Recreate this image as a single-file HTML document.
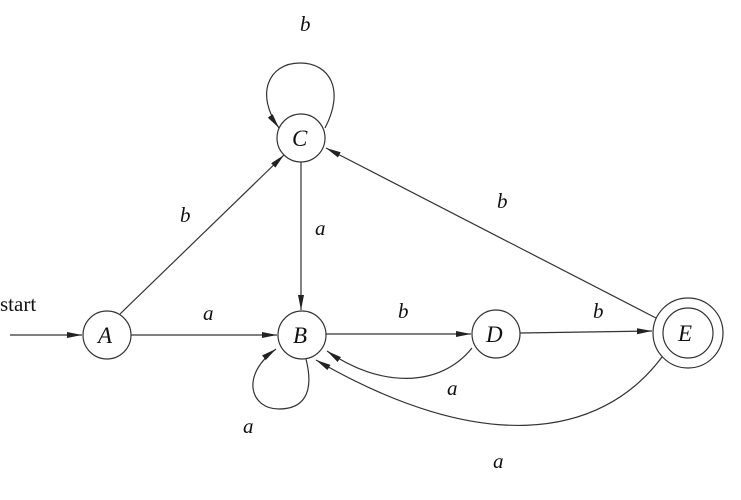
<!DOCTYPE html>
<html><head><style>
html,body{margin:0;padding:0;background:#fff;}
svg{display:block}
text{font-family:"Liberation Serif",serif;font-size:21px;fill:#111;}
.i{font-style:italic}
.n{font-size:23px}
</style></head><body>
<svg width="741" height="500" viewBox="0 0 741 500">
<defs>
<marker id="ar" markerWidth="16" markerHeight="8" refX="15" refY="4" orient="auto" markerUnits="userSpaceOnUse">
<path d="M0,1 L15,4 L0,7 Z" fill="#222"/>
</marker>
</defs>
<g fill="none" stroke="#333" stroke-width="1.2">
<circle cx="107" cy="335" r="24"/>
<circle cx="302" cy="335" r="24"/>
<circle cx="301" cy="138" r="24"/>
<circle cx="496" cy="334" r="24"/>
<circle cx="688" cy="333" r="35"/>
<circle cx="688" cy="333" r="25"/>
<line x1="10" y1="335" x2="82" y2="335" marker-end="url(#ar)"/>
<line x1="120" y1="314" x2="284" y2="155" marker-end="url(#ar)"/>
<line x1="131" y1="335" x2="277" y2="335" marker-end="url(#ar)"/>
<line x1="301" y1="162" x2="301" y2="310" marker-end="url(#ar)"/>
<line x1="326" y1="334" x2="471" y2="334" marker-end="url(#ar)"/>
<line x1="520" y1="333" x2="652" y2="331" marker-end="url(#ar)"/>
<line x1="656" y1="318" x2="326" y2="148" marker-end="url(#ar)"/>
<path d="M325,128 C345,90 330,63 300,63 C268,63 255,95 279,128" marker-end="url(#ar)"/>
<path d="M306,359 C315,395 302,409 279,409 C250,409 240,375 276,349" marker-end="url(#ar)"/>
<path d="M472,348 C440,388 380,388 327,351" marker-end="url(#ar)"/>
<path d="M662,357 C600,440 480,455 316,360" marker-end="url(#ar)"/>
</g>
<text x="0" y="311">start</text>
<text class="i n" x="98" y="343">A</text>
<text class="i n" x="293" y="343">B</text>
<text class="i n" x="292" y="146">C</text>
<text class="i n" x="486" y="342">D</text>
<text class="i n" x="678" y="341">E</text>
<text class="i" x="300" y="31">b</text>
<text class="i" x="180" y="222">b</text>
<text class="i" x="203" y="320">a</text>
<text class="i" x="315" y="235">a</text>
<text class="i" x="398" y="318">b</text>
<text class="i" x="593" y="318">b</text>
<text class="i" x="497" y="208">b</text>
<text class="i" x="447" y="395">a</text>
<text class="i" x="243" y="433">a</text>
<text class="i" x="493" y="468">a</text>
</svg>
</body></html>
